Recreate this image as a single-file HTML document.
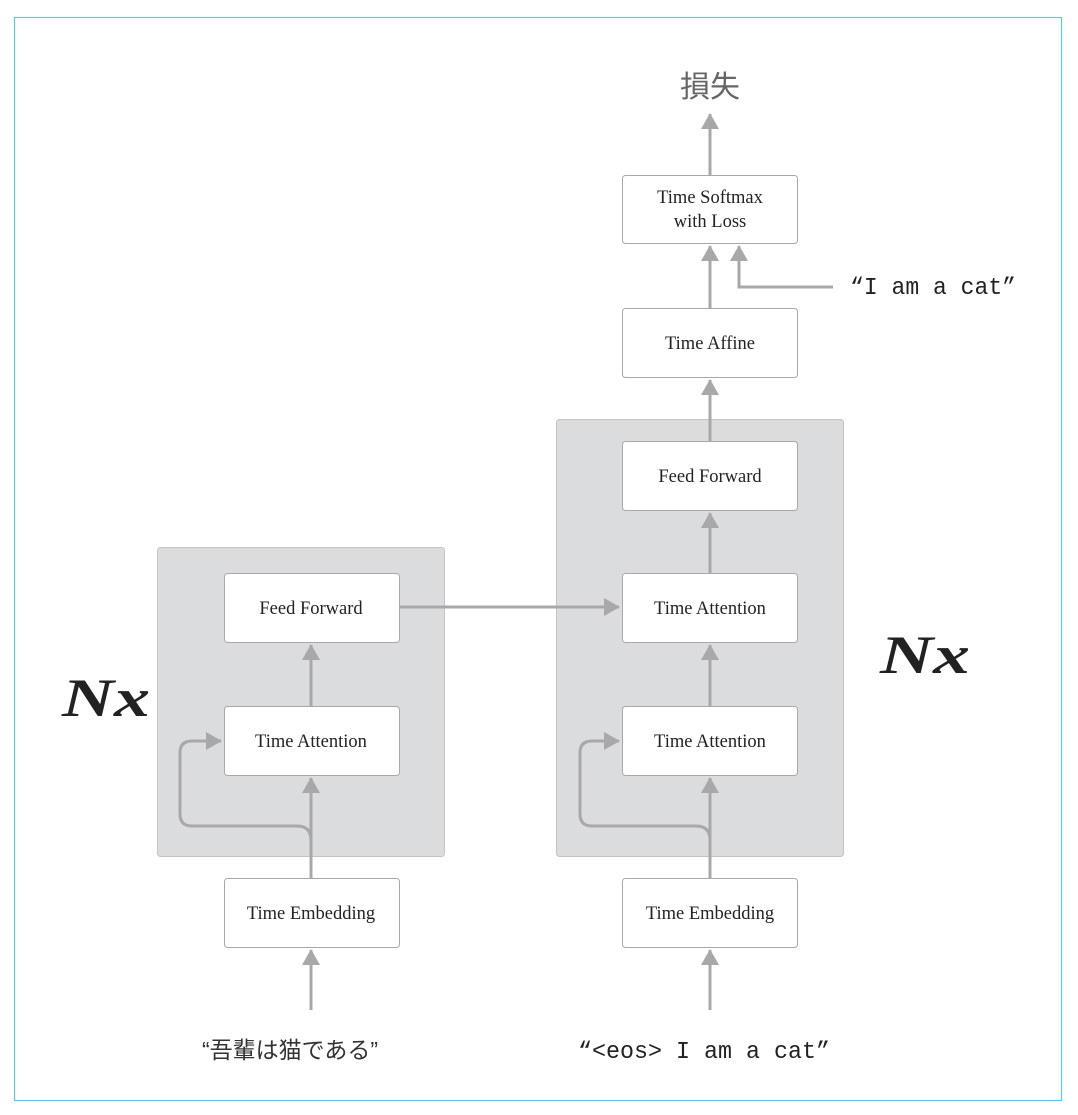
<!DOCTYPE html>
<html><head><meta charset="utf-8"><style>body{margin:0;background:#fff}</style></head><body>
<svg width="1078" height="1110" viewBox="0 0 1078 1110" xmlns="http://www.w3.org/2000/svg">
<defs><marker id="a" markerWidth="6" markerHeight="6" refX="5" refY="3" orient="auto" markerUnits="strokeWidth"><path d="M0,0 L5.3,3 L0,6 z" fill="#a8a8aa"/></marker></defs>
<rect x="14.5" y="17.5" width="1047" height="1083" fill="#fff" stroke="#5ec8ea" stroke-width="1.2"/>
<rect x="157.5" y="547.5" width="287" height="309" rx="3" fill="#dbdcde" stroke="#c4c4c6"/>
<rect x="556.5" y="419.5" width="287" height="437" rx="3" fill="#dbdcde" stroke="#c4c4c6"/>
<g fill="none" stroke="#a8a8aa" stroke-width="3">
<path d="M311 1010 V950" marker-end="url(#a)"/>
<path d="M311 878 V778" marker-end="url(#a)"/>
<path d="M311 706 V645" marker-end="url(#a)"/>
<path d="M311 860 V840 Q311 826 297 826 H192 Q180 826 180 814 V753 Q180 741 192 741 H221" marker-end="url(#a)"/>
<path d="M399 607 H619" marker-end="url(#a)"/>
<path d="M710 1010 V950" marker-end="url(#a)"/>
<path d="M710 878 V778" marker-end="url(#a)"/>
<path d="M710 860 V840 Q710 826 696 826 H592 Q580 826 580 814 V753 Q580 741 592 741 H619" marker-end="url(#a)"/>
<path d="M710 706 V645" marker-end="url(#a)"/>
<path d="M710 573 V513" marker-end="url(#a)"/>
<path d="M710 441 V380" marker-end="url(#a)"/>
<path d="M710 308 V246" marker-end="url(#a)"/>
<path d="M833 287 H739 V246" marker-end="url(#a)"/>
<path d="M710 175 V114" marker-end="url(#a)"/>
</g>
<g fill="#fff" stroke="#a8a8aa" stroke-width="1">
<rect x="224.5" y="573.5" width="175" height="69" rx="3"/>
<rect x="224.5" y="706.5" width="175" height="69" rx="3"/>
<rect x="224.5" y="878.5" width="175" height="69" rx="3"/>
<rect x="622.5" y="441.5" width="175" height="69" rx="3"/>
<rect x="622.5" y="573.5" width="175" height="69" rx="3"/>
<rect x="622.5" y="706.5" width="175" height="69" rx="3"/>
<rect x="622.5" y="878.5" width="175" height="69" rx="3"/>
<rect x="622.5" y="308.5" width="175" height="69" rx="3"/>
<rect x="622.5" y="175.5" width="175" height="68" rx="3"/>
</g>
<g font-family="Liberation Serif, serif" font-size="18.5" fill="#222" text-anchor="middle">
<text x="311" y="614">Feed Forward</text>
<text x="311" y="747">Time Attention</text>
<text x="311" y="919">Time Embedding</text>
<text x="710" y="482">Feed Forward</text>
<text x="710" y="614">Time Attention</text>
<text x="710" y="747">Time Attention</text>
<text x="710" y="919">Time Embedding</text>
<text x="710" y="349">Time Affine</text>
<text x="710" y="203">Time Softmax</text>
<text x="710" y="227">with Loss</text>
</g>
<g font-family="Liberation Serif, serif" font-size="54" font-weight="bold" font-style="italic" fill="#222">
<text x="62" y="716" textLength="88" lengthAdjust="spacingAndGlyphs">Nx</text>
<text x="880" y="673" textLength="90" lengthAdjust="spacingAndGlyphs">Nx</text>
</g>
<text x="710" y="97" text-anchor="middle" font-family="Liberation Sans, Noto Sans CJK SC, sans-serif" font-size="30" fill="#666">損失</text>
<text x="290" y="1058" text-anchor="middle" font-family="Liberation Sans, Noto Sans CJK JP, sans-serif" font-size="23" fill="#333">“吾輩は猫である”</text>
<text x="578" y="1058" font-family="Liberation Mono, monospace" font-size="24" fill="#222" textLength="252" lengthAdjust="spacingAndGlyphs">“&lt;eos&gt; I am a cat”</text>
<text x="850" y="294" font-family="Liberation Mono, monospace" font-size="24" fill="#222" textLength="166" lengthAdjust="spacingAndGlyphs">“I am a cat”</text>
</svg>
</body></html>
